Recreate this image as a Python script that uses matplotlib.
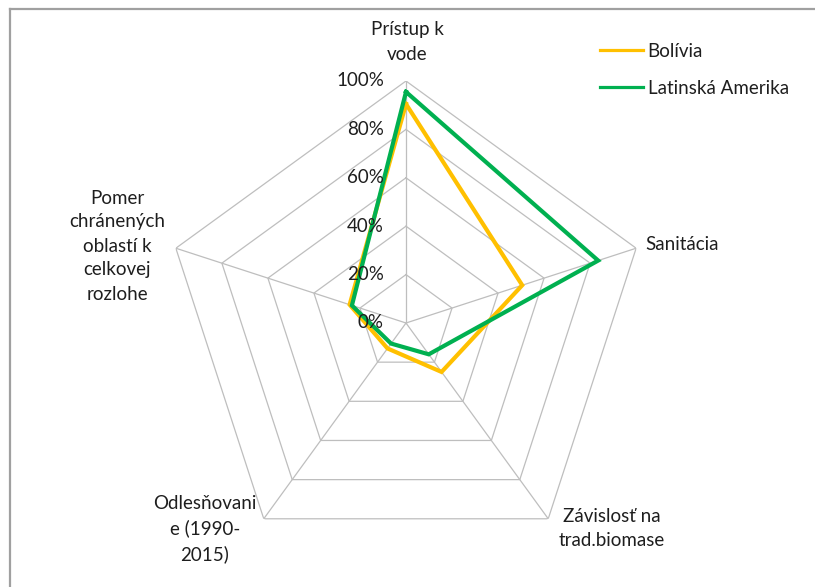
import numpy as np
import matplotlib
matplotlib.use("Agg")
import matplotlib.pyplot as plt
from matplotlib.lines import Line2D

plt.rcParams['font.family'] = ['Lato', 'DejaVu Sans']

categories = ["Prístup k\nvode", "Sanitácia", "Závislosť na\ntrad.biomase",
              "Odlesňovani\ne (1990-\n2015)", "Pomer\nchránených\noblastí k\ncelkovej\nrozlohe"]
bolivia = [0.905, 0.505, 0.25, 0.13, 0.245]
latam = [0.955, 0.835, 0.16, 0.105, 0.235]
series_names = ["Bolívia", "Latinská Amerika"]
series_colors = ["#FFC000", "#00B050"]
rticks = [0.0, 0.2, 0.4, 0.6, 0.8, 1.0]
rtick_labels = ["0%", "20%", "40%", "60%", "80%", "100%"]

W, H = 815, 587
fig = plt.figure(figsize=(W / 100, H / 100), dpi=100)

cx, cy, R = 406, 323, 242
ax = fig.add_axes([(cx - R) / W, (H - cy - R) / H, 2 * R / W, 2 * R / H], projection='polar')
ax.set_theta_offset(np.pi / 2)
ax.set_theta_direction(-1)
ax.set_ylim(0, 1)
ax.grid(False)
ax.spines['polar'].set_visible(False)
ax.set_xticks([])
ax.set_yticks([])
ax.patch.set_alpha(0)

n = len(categories)
theta = np.arange(n) * 2 * np.pi / n
theta_c = np.append(theta, theta[0])

grid_col = "#BEBEBE"
for r in rticks[1:]:
    ax.plot(theta_c, [r] * (n + 1), color=grid_col, lw=0.9, zorder=1)
for t in theta:
    ax.plot([t, t], [0, 1], color=grid_col, lw=0.9, zorder=1)

for vals, name, col in zip([bolivia, latam], series_names, series_colors):
    ax.plot(theta_c, vals + [vals[0]], color=col, lw=3.0, zorder=3,
            solid_joinstyle='miter', label=name)

FS = 13.5
TXT = "#1E1E1E"

# radial tick labels
for r, lab in zip(rticks, rtick_labels):
    ypix = cy - r * R
    fig.text((cx - 22) / W, 1 - ypix / H, lab, ha='right', va='center',
             fontsize=FS, color=TXT)

# category labels (pixel positions)
label_pos = [(407, 42, 'center'), (645, 245, 'left'), (612, 528, 'center'),
             (205, 529, 'center'), (117, 246, 'center')]
for lab, (x, y, ha) in zip(categories, label_pos):
    fig.text(x / W, 1 - y / H, lab, ha=ha, va='center',
             fontsize=FS, color=TXT, linespacing=1.5, multialignment='center')

handles = [Line2D([], [], color=c, lw=2.3) for c in series_colors]
fig.legend(handles, series_names, loc='upper left',
           bbox_to_anchor=(583 / W, 1 - 26 / H), frameon=False, fontsize=FS,
           handlelength=2.3, handletextpad=0.25, labelspacing=1.05,
           labelcolor=TXT)

# border (top and left)
fig.add_artist(Line2D([10 / W, 1], [1 - 9 / H, 1 - 9 / H], color="#A0A0A0", lw=1.6,
                      transform=fig.transFigure))
fig.add_artist(Line2D([10 / W, 10 / W], [1 - 9 / H, 0], color="#A0A0A0", lw=1.6,
                      transform=fig.transFigure))

fig.savefig("out.png", dpi=100)
